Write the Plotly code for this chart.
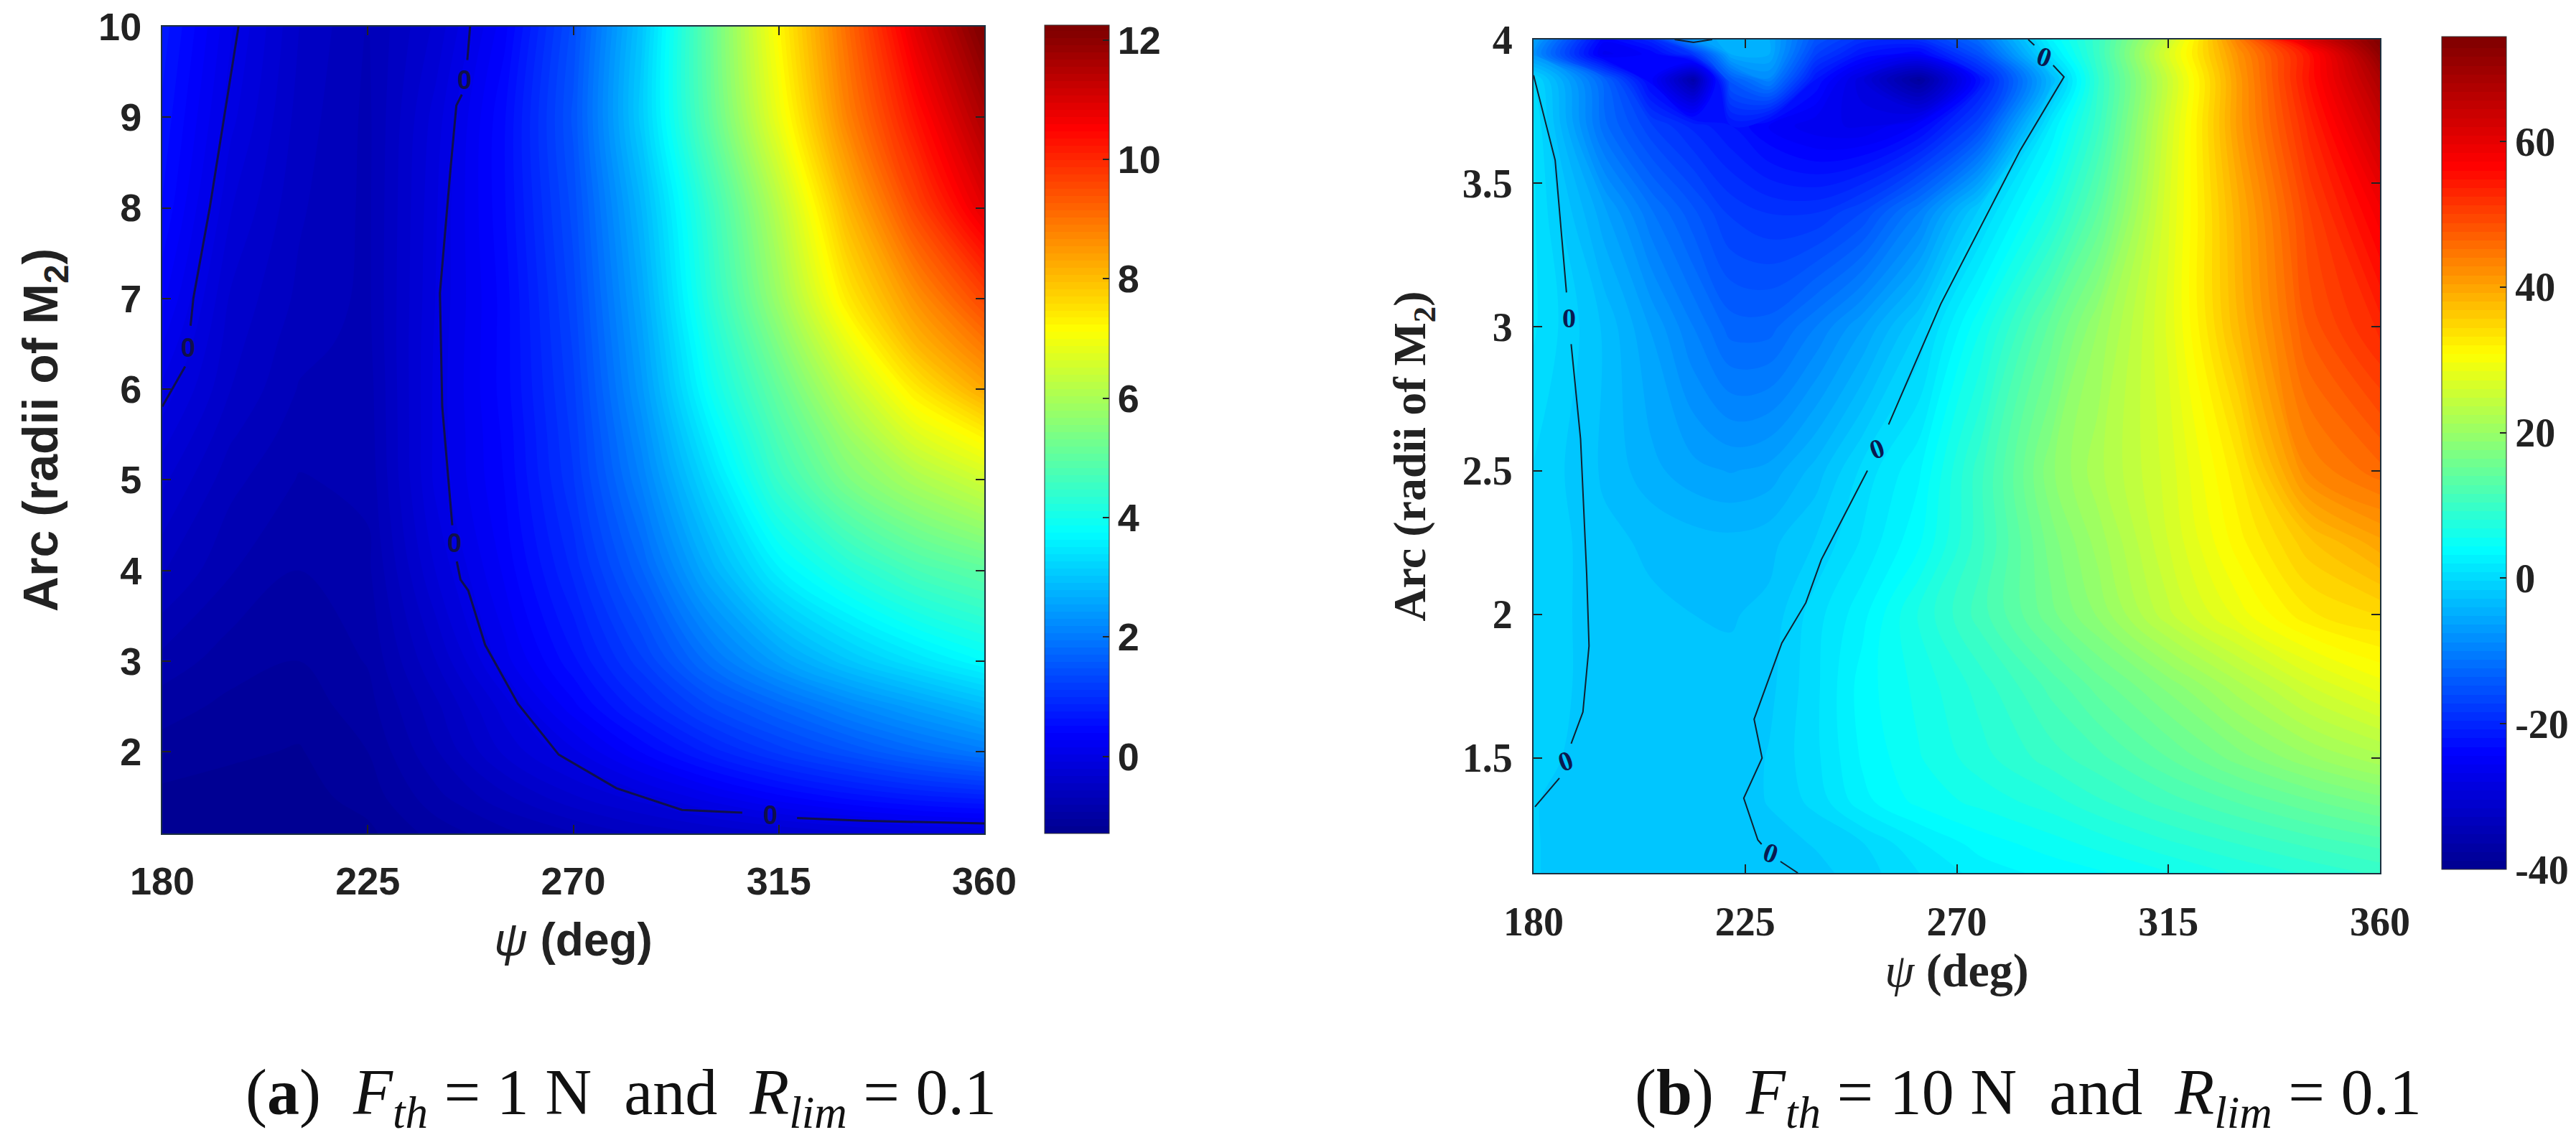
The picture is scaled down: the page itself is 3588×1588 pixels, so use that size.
import plotly.graph_objects as go

W, H = 3588, 1588

# ---------- panel (a) ----------
psi_a = [180, 195, 210, 225, 240, 255, 270, 285, 300, 315, 330, 345, 360]
arc_a = [1.1, 1.5, 2, 2.5, 3, 4, 5, 5.5, 6, 6.5, 7, 8, 9, 10]
z_a = [
    [-1.25, -1.25, -1.25, -1.2, -1.0, -0.85, -0.7, -0.55, -0.45, -0.35, -0.25, -0.15, -0.1],
    [-1.2, -1.22, -1.22, -1.12, -0.85, -0.6, -0.35, -0.15, 0.1, 0.35, 0.55, 0.7, 0.8],
    [-1.1, -1.15, -1.18, -1.05, -0.7, -0.3, 0.0, 0.4, 0.8, 1.15, 1.45, 1.75, 2.0],
    [-1.0, -1.08, -1.12, -0.98, -0.6, -0.15, 0.35, 0.85, 1.35, 1.75, 2.15, 2.5, 2.85],
    [-0.85, -1.0, -1.05, -0.92, -0.45, 0.1, 0.6, 1.2, 1.9, 2.5, 3.0, 3.4, 3.75],
    [-0.55, -0.8, -0.93, -0.84, -0.2, 0.3, 0.9, 1.7, 2.7, 3.6, 4.2, 4.7, 5.0],
    [-0.3, -0.65, -0.82, -0.78, -0.05, 0.4, 1.1, 2.1, 3.3, 4.5, 5.4, 6.0, 6.5],
    [-0.15, -0.55, -0.76, -0.76, -0.05, 0.42, 1.15, 2.25, 3.6, 4.8, 5.8, 6.7, 7.3],
    [0.0, -0.45, -0.7, -0.75, -0.05, 0.45, 1.2, 2.4, 3.9, 5.1, 6.3, 7.4, 8.3],
    [0.15, -0.4, -0.65, -0.73, -0.06, 0.45, 1.25, 2.5, 4.1, 5.45, 6.85, 8.1, 8.95],
    [0.3, -0.35, -0.6, -0.72, -0.08, 0.45, 1.3, 2.6, 4.3, 5.8, 7.4, 8.6, 9.6],
    [0.5, -0.2, -0.55, -0.72, -0.1, 0.5, 1.4, 2.8, 4.5, 6.2, 8.1, 9.6, 10.9],
    [0.6, -0.05, -0.5, -0.72, -0.15, 0.5, 1.5, 3.1, 5.0, 6.9, 8.8, 10.3, 11.6],
    [0.7, 0.05, -0.45, -0.7, -0.3, 0.35, 1.4, 3.0, 5.1, 7.2, 9.1, 10.9, 12.25],
]
zero_a1_x = [196.7, 193.5, 190.4, 186.8, 186.2, None, 185.0, 180.0]
zero_a1_y = [10, 9, 8, 7, 6.7, None, 6.25, 5.81]
zero_a2_x = [247.4, 246.8, None, 245.6, 244.4, 243.1, 240.8, 241.3, 242.6, 243.5, None, 244.5, 245.3, 247,
             250.7, 257.9, 266.8, 279.4, 293.8, 307, None, 319, 333.4, 360]
zero_a2_y = [10, 9.63, None, 9.25, 9.13, 8.42, 7.06, 5.81, 5.0, 4.5, None, 4.1, 3.9, 3.78,
             3.18, 2.53, 1.97, 1.6, 1.36, 1.33, None, 1.27, 1.24, 1.21]
label_a_x = [185.6, 246.2, 244.0, 313.2]
label_a_y = [6.46, 9.41, 4.3, 1.3]

# ---------- panel (b) ----------
psi_b = [180, 195, 205, 214, 222, 230, 240, 250, 262, 275, 290, 300, 315, 330, 345, 360]
arc_b = [1.1, 1.2, 1.35, 1.5, 1.75, 2, 2.25, 2.5, 3, 3.4, 3.7, 3.86, 3.95, 4]
z_b = [
    [-1.5, -2.5, -2.5, -2.5, -2.5, -2.5, -2, -1, 0.8, 2.5, 3.6, 4.2, 5.5, 7, 8.2, 9.5],
    [-1.5, -2.5, -2.5, -2.5, -2.5, -2.2, -1.5, -0.5, 1.8, 3.7, 5, 6, 7.7, 9.2, 10.7, 12],
    [-1.5, -2.5, -2.5, -2.5, -2.5, -1.5, 0, 2.8, 4.8, 6, 7.5, 9, 11, 13, 15, 17],
    [-1, -2.5, -2.5, -2.5, -2.5, -1.5, 0.5, 3.4, 5.5, 7.5, 9.8, 11.2, 14, 17, 19.8, 22],
    [-0.5, -2.5, -2.5, -2.5, -2.5, -2, 0.5, 3.8, 6, 8.5, 12, 14.5, 18, 22, 26, 29],
    [-0.5, -2.5, -2.6, -2.8, -2.9, -2.5, 0.3, 2.8, 7, 11, 16, 19, 24.5, 29, 33, 34.5],
    [-0.5, -2.5, -3, -3.4, -3.6, -3.2, -1.5, 1, 4.2, 10, 17, 20.5, 26, 31.5, 36.5, 40],
    [-0.5, -3, -4.8, -6, -6.5, -6, -3.5, 0, 3, 10, 18.5, 22, 26.5, 33, 43, 46],
    [1, -3, -6.5, -10, -13, -13, -10, -6.5, -1.5, 5.5, 14.5, 20, 27.5, 38, 48, 53],
    [1, -6, -11, -14.5, -17.5, -18.5, -18.5, -16, -10, -1, 7, 14, 27, 39, 50, 58],
    [1, -12, -17, -20, -22, -24.5, -26.5, -27, -24, -16, 2, 10, 26, 41, 53, 64],
    [0, -13, -24, -36, -14, -9, -22, -29, -38, -22, -4, 9, 25, 41, 55, 68],
    [-8, -26, -24, -18, -5, -5, -17, -22, -24, -15, 1, 10, 27, 42, 55, 72],
    [-6, -24, -20, -7, -4, -5, -15, -19, -19, -12, 3, 10, 25, 44, 62, 74],
]
zero_b1_x = [180, 184.6, 187.0, None, 188.0, 190, 191.3, 191.8, 190.5, 188.0, None, 185.5, 180.3]
zero_b1_y = [3.876, 3.58, 3.12, None, 2.94, 2.61, 2.14, 1.89, 1.66, 1.55, None, 1.43, 1.33]
zero_b2_x = [285.2, 286.5, None, 290.5, 292.8, 283.5, 266.6, 255.5, None, 251, 241.2, 237.9, 232.8,
             226.9, 228.6, 224.7, 227.7, 228.5, None, 232.5, 236.2]
zero_b2_y = [4.0, 3.98, None, 3.91, 3.87, 3.615, 3.08, 2.66, None, 2.5, 2.19, 2.04, 1.9,
             1.635, 1.5, 1.36, 1.215, 1.2, None, 1.14, 1.1]
zero_b3_x = [210, 214, 218]
zero_b3_y = [4.0, 3.99, 4.0]
label_b_x = [288.6, 187.6, 253.0, 186.8, 230.4]
label_b_y = [3.94, 3.03, 2.575, 1.49, 1.17]
label_b_rot = [20, 0, -20, -20, 20]

# colours: jet, with stops given in data units for each panel
jet = ["rgb(0,0,143)", "rgb(0,0,255)", "rgb(0,255,255)", "rgb(255,255,0)", "rgb(255,0,0)", "rgb(128,0,0)"]
stops_a = [-1.29, 0.4, 3.8, 7.2, 10.6, 12.25]
stops_b = [-40, -24, 4.2, 31, 57, 74.4]
scale_a = [[(s - stops_a[0]) / (stops_a[-1] - stops_a[0]), c] for s, c in zip(stops_a, jet)]
scale_b = [[(s - stops_b[0]) / (stops_b[-1] - stops_b[0]), c] for s, c in zip(stops_b, jet)]

SANS = "Liberation Sans"
SERIF = "Liberation Serif"
INK = "#222222"
FRAME = "#1c3040"


def dom_x(a, b):
    return [a / W, b / W]


def dom_y(top, bottom):
    return [1 - bottom / H, 1 - top / H]


fig = go.Figure()

fig.add_trace(go.Contour(
    x=psi_a, y=arc_a, z=z_a, xaxis="x", yaxis="y",
    colorscale=scale_a, zmin=stops_a[0], zmax=stops_a[-1], showscale=True,
    contours=dict(coloring="fill", start=stops_a[0], end=stops_a[-1], size=0.12),
    line=dict(width=0, smoothing=1),
    colorbar=dict(
        x=1455 / W, xanchor="left", xpad=0, y=1 - 1161 / H, yanchor="bottom", ypad=0,
        thickness=90, thicknessmode="pixels", len=1126, lenmode="pixels",
        tickmode="array", tickvals=[0, 2, 4, 6, 8, 10, 12], ticktext=["0", "2", "4", "6", "8", "10", "12"],
        ticks="inside", ticklen=9, tickwidth=2, tickcolor="#222222",
        outlinewidth=1, outlinecolor="#333333",
        tickfont=dict(family=SANS, size=54, color=INK, weight="bold"),
    ),
))
fig.add_trace(go.Contour(
    x=psi_b, y=arc_b, z=z_b, xaxis="x2", yaxis="y2",
    colorscale=scale_b, zmin=stops_b[0], zmax=stops_b[-1], showscale=True,
    contours=dict(coloring="fill", start=stops_b[0], end=stops_b[-1], size=1.2),
    line=dict(width=0, smoothing=1),
    colorbar=dict(
        x=3401 / W, xanchor="left", xpad=0, y=1 - 1211 / H, yanchor="bottom", ypad=0,
        thickness=90, thicknessmode="pixels", len=1160, lenmode="pixels",
        tickmode="array", tickvals=[-40, -20, 0, 20, 40, 60], ticktext=["-40", "-20", "0", "20", "40", "60"],
        ticks="inside", ticklen=9, tickwidth=2, tickcolor="#222222",
        outlinewidth=1, outlinecolor="#333333",
        tickfont=dict(family=SERIF, size=56, color=INK, weight="bold"),
    ),
))

for lx, ly, xa, ya, col, wid in [
    (zero_a1_x, zero_a1_y, "x", "y", "#10104a", 3),
    (zero_a2_x, zero_a2_y, "x", "y", "#10104a", 3),
    (zero_b1_x, zero_b1_y, "x2", "y2", "#102030", 2),
    (zero_b2_x, zero_b2_y, "x2", "y2", "#102030", 2),
    (zero_b3_x, zero_b3_y, "x2", "y2", "#102030", 2),
]:
    fig.add_trace(go.Scatter(x=lx, y=ly, xaxis=xa, yaxis=ya, mode="lines",
                             line=dict(color=col, width=wid), showlegend=False, hoverinfo="skip"))

anns = []
for x, y in zip(label_a_x, label_a_y):
    anns.append(dict(x=x, y=y, xref="x", yref="y", text="<b>0</b>", showarrow=False,
                     font=dict(family=SANS, size=36, color="#10104a")))
for x, y, r in zip(label_b_x, label_b_y, label_b_rot):
    anns.append(dict(x=x, y=y, xref="x2", yref="y2", text="<b>0</b>", showarrow=False, textangle=r,
                     font=dict(family=SERIF, size=38, color="#0a1a50")))
anns.append(dict(x=865 / W, y=1 - 1528 / H, xref="paper", yref="paper", showarrow=False,
                 xanchor="center", yanchor="middle",
                 text="(<b>a</b>)  <i>F<sub>th</sub></i> = 1 N  and  <i>R<sub>lim</sub></i> = 0.1",
                 font=dict(family=SERIF, size=90, color="#111111")))
anns.append(dict(x=2825 / W, y=1 - 1528 / H, xref="paper", yref="paper", showarrow=False,
                 xanchor="center", yanchor="middle",
                 text="(<b>b</b>)  <i>F<sub>th</sub></i> = 10 N  and  <i>R<sub>lim</sub></i> = 0.1",
                 font=dict(family=SERIF, size=90, color="#111111")))


def axis(rng, vals, dom, family, size, title, tsize, standoff, lab_off, anchor):
    return dict(range=rng, tickmode="array", tickvals=vals, ticktext=[str(v) for v in vals],
                domain=dom, anchor=anchor, ticks="inside", ticklen=12, tickwidth=2, tickcolor="#222222",
                showline=True, linecolor=FRAME, linewidth=2, mirror="ticks", showgrid=False, zeroline=False,
                ticklabelstandoff=lab_off, automargin=False,
                tickfont=dict(family=family, size=size, color=INK, weight="bold"),
                title=dict(text=title, standoff=standoff, font=dict(family=family, size=tsize, color=INK)))


fig.update_layout(
    width=W, height=H, margin=dict(l=0, r=0, t=0, b=0), paper_bgcolor="white", plot_bgcolor="white",
    showlegend=False, annotations=anns,
    xaxis=axis([180, 360], [180, 225, 270, 315, 360], dom_x(226, 1371), SANS, 54,
               "<i>ψ</i> <b>(deg)</b>", 64, 30, 18, "y"),
    yaxis=axis([1.1, 10], [2, 3, 4, 5, 6, 7, 8, 9, 10], dom_y(37, 1161), SANS, 54,
               "<b>Arc (radii of M<sub>2</sub>)</b>", 68, 34, 16, "x"),
    xaxis2=axis([180, 360], [180, 225, 270, 315, 360], dom_x(2136, 3315), SERIF, 56,
                "<i>ψ</i> <b>(deg)</b>", 66, 10, 18, "y2"),
    yaxis2=axis([1.1, 4], [1.5, 2, 2.5, 3, 3.5, 4], dom_y(55, 1216), SERIF, 56,
                "<b>Arc (radii of M<sub>2</sub>)</b>", 64, 30, 16, "x2"),
)

fig.write_html("out.html", post_script="document.body.style.margin='0';", config={"displayModeBar": False})
